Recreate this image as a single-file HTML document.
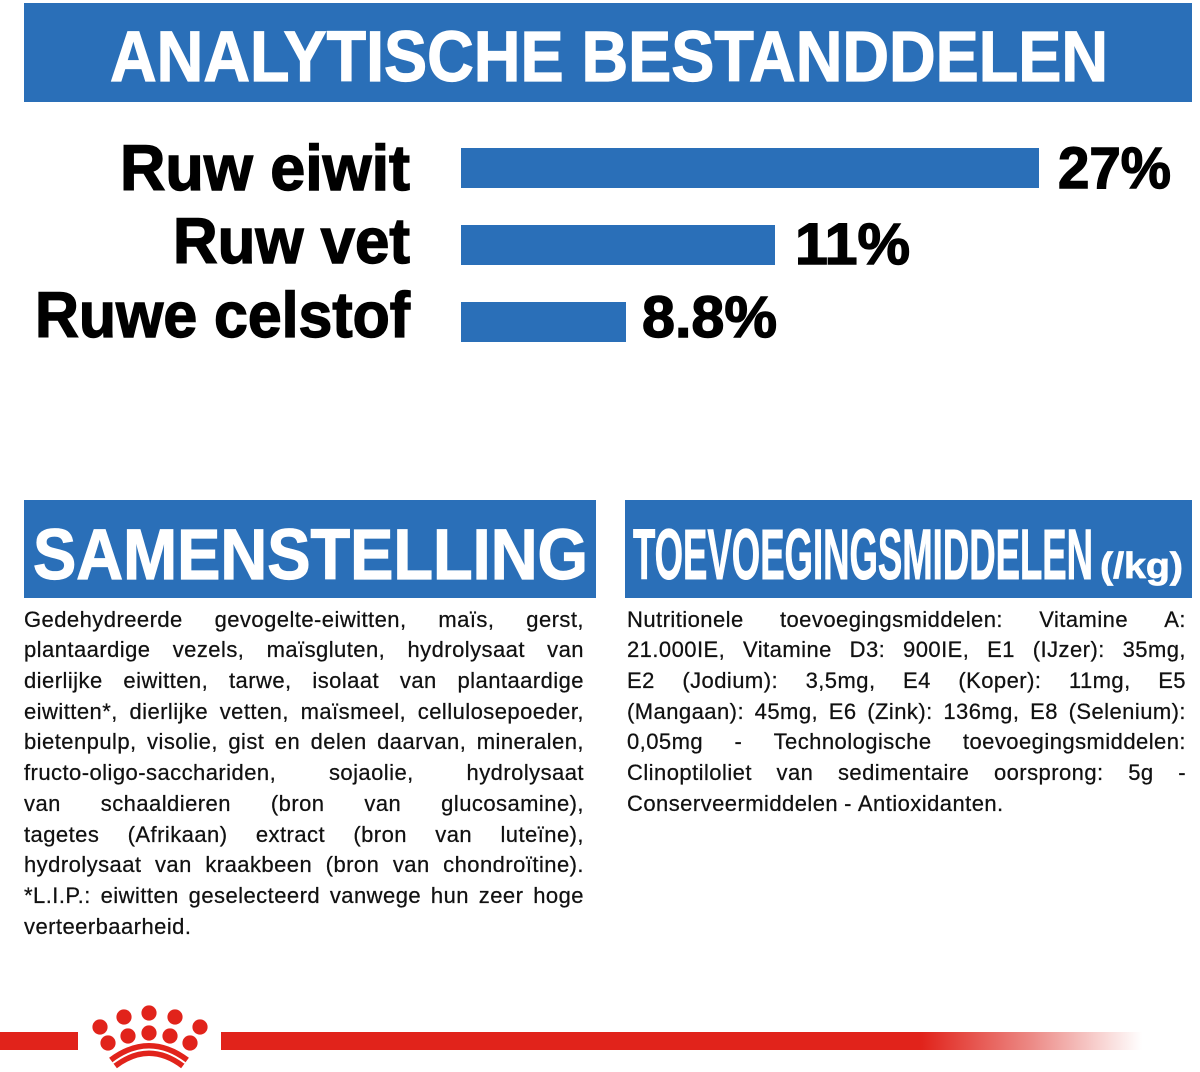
<!DOCTYPE html>
<html>
<head>
<meta charset="utf-8">
<style>
  html, body { margin:0; padding:0; background:#fff; }
  body { width:1200px; height:1072px; position:relative; overflow:hidden; }
  svg.bg { position:absolute; left:0; top:0; }
  .col { position:absolute; font-family:"Liberation Sans", sans-serif; font-size:22px; line-height:30.7px; color:#111; letter-spacing:0.45px; -webkit-text-stroke:0.25px #111; }
  .col .l { display:flex; justify-content:space-between; white-space:nowrap; height:30.7px; }
  .col .l.last { justify-content:flex-start; }
  .col .l.last span { margin-right:6px; }
</style>
</head>
<body>
<svg class="bg" width="1200" height="1072" viewBox="0 0 1200 1072" xmlns="http://www.w3.org/2000/svg">
  <defs>
    <linearGradient id="fade" x1="221" y1="0" x2="1142" y2="0" gradientUnits="userSpaceOnUse">
      <stop offset="0" stop-color="#e1231b"/>
      <stop offset="0.76" stop-color="#e1231b"/>
      <stop offset="0.88" stop-color="#ec8a86"/>
      <stop offset="1" stop-color="#ffffff"/>
    </linearGradient>
  </defs>
  <!-- header -->
  <rect x="24" y="3" width="1168" height="99" fill="#2a6fb8"/>
  <text x="110" y="81" font-family="Liberation Sans, sans-serif" font-weight="bold" font-size="71" fill="#fff" stroke="#fff" stroke-width="1.2" textLength="998" lengthAdjust="spacingAndGlyphs">ANALYTISCHE BESTANDDELEN</text>

  <!-- labels -->
  <g font-family="Liberation Sans, sans-serif" font-weight="bold" fill="#000" stroke="#000" stroke-width="1.4">
    <text x="410" y="190" font-size="64" text-anchor="end" textLength="290" lengthAdjust="spacingAndGlyphs">Ruw eiwit</text>
    <text x="410" y="263" font-size="64" text-anchor="end" textLength="237" lengthAdjust="spacingAndGlyphs">Ruw vet</text>
    <text x="410" y="337" font-size="64" text-anchor="end" textLength="375" lengthAdjust="spacingAndGlyphs">Ruwe celstof</text>
    <text x="1058" y="188" font-size="58" textLength="113" lengthAdjust="spacingAndGlyphs">27%</text>
    <text x="795" y="264" font-size="58" textLength="115" lengthAdjust="spacingAndGlyphs">11%</text>
    <text x="642" y="337" font-size="58" textLength="135" lengthAdjust="spacingAndGlyphs">8.8%</text>
  </g>

  <!-- bars -->
  <rect x="461" y="148" width="578" height="40" fill="#2a6fb8"/>
  <rect x="461" y="225" width="314" height="40" fill="#2a6fb8"/>
  <rect x="461" y="302" width="165" height="40" fill="#2a6fb8"/>

  <!-- section headers -->
  <rect x="24" y="500" width="572" height="98" fill="#2a6fb8"/>
  <text x="33" y="579" font-family="Liberation Sans, sans-serif" font-weight="bold" font-size="71" fill="#fff" stroke="#fff" stroke-width="1.2" textLength="555" lengthAdjust="spacingAndGlyphs">SAMENSTELLING</text>
  <rect x="625" y="500" width="567" height="98" fill="#2a6fb8"/>
  <text x="633" y="579" font-family="Liberation Sans, sans-serif" font-weight="bold" font-size="71" fill="#fff" stroke="#fff" stroke-width="1" textLength="460" lengthAdjust="spacingAndGlyphs">TOEVOEGINGSMIDDELEN</text>
  <text x="1100" y="578" font-family="Liberation Sans, sans-serif" font-weight="bold" font-size="36" fill="#fff" stroke="#fff" stroke-width="0.8" textLength="83" lengthAdjust="spacingAndGlyphs">(/kg)</text>

  <!-- footer -->
  <rect x="0" y="1032" width="78" height="18" fill="#e1231b"/>
  <rect x="221" y="1032" width="921" height="18" fill="url(#fade)"/>
  <g fill="#e1231b">
    <circle cx="100" cy="1027" r="7.6"/>
    <circle cx="124" cy="1017" r="7.6"/>
    <circle cx="149" cy="1013" r="7.6"/>
    <circle cx="175" cy="1017" r="7.6"/>
    <circle cx="200" cy="1027" r="7.6"/>
    <circle cx="108" cy="1043" r="7.6"/>
    <circle cx="128" cy="1036" r="7.6"/>
    <circle cx="149" cy="1033" r="7.6"/>
    <circle cx="170" cy="1036" r="7.6"/>
    <circle cx="190" cy="1043" r="7.6"/>
  </g>
  <path d="M113 1063 Q149 1036 185 1063" fill="none" stroke="#e1231b" stroke-width="13"/>
  <path d="M113 1063 Q149 1036 185 1063" fill="none" stroke="#fff" stroke-width="2"/>
</svg>

<div class="col" style="left:24px; top:604.7px; width:560px;">
  <div class="l"><span>Gedehydreerde</span><span>gevogelte-eiwitten,</span><span>maïs,</span><span>gerst,</span></div>
  <div class="l"><span>plantaardige</span><span>vezels,</span><span>maïsgluten,</span><span>hydrolysaat</span><span>van</span></div>
  <div class="l"><span>dierlijke</span><span>eiwitten,</span><span>tarwe,</span><span>isolaat</span><span>van</span><span>plantaardige</span></div>
  <div class="l"><span>eiwitten*,</span><span>dierlijke</span><span>vetten,</span><span>maïsmeel,</span><span>cellulosepoeder,</span></div>
  <div class="l"><span>bietenpulp,</span><span>visolie,</span><span>gist</span><span>en</span><span>delen</span><span>daarvan,</span><span>mineralen,</span></div>
  <div class="l"><span>fructo-oligo-sacchariden,</span><span>sojaolie,</span><span>hydrolysaat</span></div>
  <div class="l"><span>van</span><span>schaaldieren</span><span>(bron</span><span>van</span><span>glucosamine),</span></div>
  <div class="l"><span>tagetes</span><span>(Afrikaan)</span><span>extract</span><span>(bron</span><span>van</span><span>luteïne),</span></div>
  <div class="l"><span>hydrolysaat</span><span>van</span><span>kraakbeen</span><span>(bron</span><span>van</span><span>chondroïtine).</span></div>
  <div class="l"><span>*L.I.P.:</span><span>eiwitten</span><span>geselecteerd</span><span>vanwege</span><span>hun</span><span>zeer</span><span>hoge</span></div>
  <div class="l last"><span>verteerbaarheid.</span></div>
</div>

<div class="col" style="left:627px; top:604.7px; width:559px;">
  <div class="l"><span>Nutritionele</span><span>toevoegingsmiddelen:</span><span>Vitamine</span><span>A:</span></div>
  <div class="l"><span>21.000IE,</span><span>Vitamine</span><span>D3:</span><span>900IE,</span><span>E1</span><span>(IJzer):</span><span>35mg,</span></div>
  <div class="l"><span>E2</span><span>(Jodium):</span><span>3,5mg,</span><span>E4</span><span>(Koper):</span><span>11mg,</span><span>E5</span></div>
  <div class="l"><span>(Mangaan):</span><span>45mg,</span><span>E6</span><span>(Zink):</span><span>136mg,</span><span>E8</span><span>(Selenium):</span></div>
  <div class="l"><span>0,05mg</span><span>-</span><span>Technologische</span><span>toevoegingsmiddelen:</span></div>
  <div class="l"><span>Clinoptiloliet</span><span>van</span><span>sedimentaire</span><span>oorsprong:</span><span>5g</span><span>-</span></div>
  <div class="l last"><span>Conserveermiddelen</span><span>-</span><span>Antioxidanten.</span></div>
</div>
</body>
</html>
